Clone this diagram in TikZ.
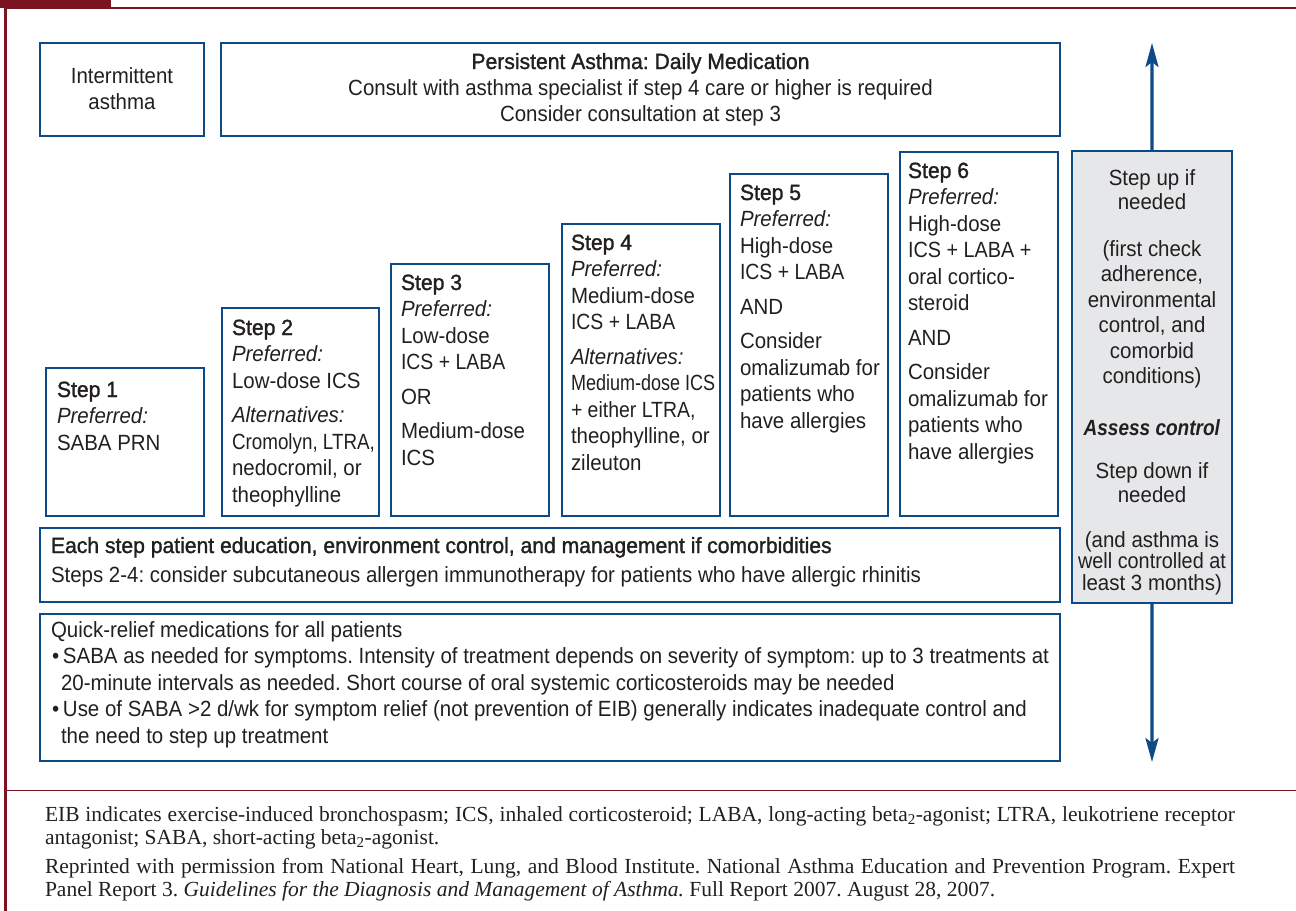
\documentclass[tikz,border=0pt]{standalone}
\usepackage{graphicx}
\usepackage{fontspec}
\setmainfont{Liberation Sans}[FakeStretch=0.93]
\newfontfamily\medfont{Liberation Sans}[FakeStretch=0.96,FakeBold=1.4]
\newfontfamily\footfont{Liberation Serif}
\usetikzlibrary{arrows.meta}
\definecolor{navy}{HTML}{0E4A87}
\definecolor{maroon}{HTML}{7B1420}
\definecolor{panelgray}{HTML}{E6E7E8}
\definecolor{ink}{HTML}{231F20}
\frenchspacing
\newcommand\fl{\rule{0pt}{17bp}}
\newcommand\narrow[2]{\scalebox{#1}[1]{#2}}
\newcommand\bodyfs{\fontsize{22bp}{26.5bp}\selectfont\frenchspacing}
\newcommand\footfs{\fontsize{21.5bp}{23bp}\selectfont\footfont\frenchspacing}
\begin{document}
\begin{tikzpicture}[x=1bp,y=-1bp,
  frame/.style={maroon, line width=2.5bp},
  box/.style={draw=navy, line width=2bp, inner sep=0pt, outer sep=0pt, anchor=north west},
  graybox/.style={box, fill=panelgray},
  txt/.style={inner sep=0pt, outer sep=0pt, anchor=north west, align=left, text=ink, font=\bodyfs},
  ctxt/.style={txt, anchor=north, align=center},
  foot/.style={inner sep=0pt, outer sep=0pt, anchor=base west, text=ink, font=\footfs},
  updown/.style={draw=navy, line width=3.2bp, -{Stealth[length=24bp,width=13bp,inset=5bp]}}
]
\useasboundingbox (0,0) rectangle (1296,911);
% frame
\fill[maroon] (0,0) rectangle (111,8);
\draw[frame] (5.5,8) -- (1296,8);
\draw[frame] (5.5,8) -- (5.5,911);
\draw[maroon, line width=1.2bp] (5.5,790.5) -- (1296,790.5);

% top boxes
\node[box, minimum width=164bp, minimum height=93bp] (inter) at (40,43) {};
\node[box, minimum width=839bp, minimum height=93bp] (persist) at (221,43) {};
\node[ctxt, font=\fontsize{22bp}{26bp}\selectfont\frenchspacing] (intert) at (122,66) {\fl Intermittent\\asthma};
\node[ctxt, font=\fontsize{22bp}{26bp}\selectfont\frenchspacing] (persistt) at (640.5,52)
  {\fl{\medfont Persistent Asthma: Daily Medication}\\Consult with asthma specialist if step 4 care or higher is required\\Consider consultation at step 3};

% step boxes
\node[box, minimum width=158bp, minimum height=148bp] (s1) at (46,368) {};
\node[box, minimum width=157bp, minimum height=208bp] (s2) at (222,308) {};
\node[box, minimum width=158bp, minimum height=252bp] (s3) at (391,264) {};
\node[box, minimum width=158bp, minimum height=292bp] (s4) at (562,224) {};
\node[box, minimum width=158bp, minimum height=342bp] (s5) at (730,174) {};
\node[box, minimum width=158bp, minimum height=364bp] (s6) at (900,152) {};

\node[txt] (s1t) at (57,380) {\fl{\medfont Step 1}\\\textit{Preferred:}\\SABA PRN};
\node[txt] (s2t) at (232,318) {\fl{\medfont Step 2}\\\textit{Preferred:}\\Low-dose ICS\\[8bp]\textit{Alternatives:}\\\narrow{0.92}{Cromolyn, LTRA,}\\nedocromil, or\\theophylline};
\node[txt] (s3t) at (401,273) {\fl{\medfont Step 3}\\\textit{Preferred:}\\Low-dose\\\narrow{0.95}{ICS + LABA}\\[8bp]OR\\[8bp]Medium-dose\\ICS};
\node[txt] (s4t) at (571,233) {\fl{\medfont Step 4}\\\textit{Preferred:}\\Medium-dose\\\narrow{0.95}{ICS + LABA}\\[8bp]\textit{Alternatives:}\\\narrow{0.88}{Medium-dose ICS}\\\narrow{0.95}{+ either LTRA,}\\theophylline, or\\zileuton};
\node[txt] (s5t) at (740,183) {\fl{\medfont Step 5}\\\textit{Preferred:}\\High-dose\\\narrow{0.95}{ICS + LABA}\\[8bp]AND\\[8bp]Consider\\omalizumab for\\patients who\\have allergies};
\node[txt] (s6t) at (908,161) {\fl{\medfont Step 6}\\\textit{Preferred:}\\High-dose\\\narrow{0.97}{ICS + LABA +}\\oral cortico-\\steroid\\[8bp]AND\\[8bp]Consider\\omalizumab for\\patients who\\have allergies};

% bottom boxes
\node[box, minimum width=1020bp, minimum height=74bp] (each) at (40,528) {};
\node[txt] (eacht) at (51,536) {\fl{\medfont Each step patient education, environment control, and management if comorbidities}\\[2.5bp]Steps 2-4: consider subcutaneous allergen immunotherapy for patients who have allergic rhinitis};
\node[box, minimum width=1020bp, minimum height=147bp] (quick) at (40,614) {};
\node[txt] (quickt) at (51,620) {\fl Quick-relief medications for all patients\\
\makebox[12bp][l]{\hspace{1bp}•}SABA as needed for symptoms. Intensity of treatment depends on severity of symptom: up to 3 treatments at\\
\hspace*{10bp}20-minute intervals as needed. Short course of oral systemic corticosteroids may be needed\\
\makebox[12bp][l]{\hspace{1bp}•}Use of SABA >2 d/wk for symptom relief (not prevention of EIB) generally indicates inadequate control and\\
\hspace*{10bp}the need to step up treatment};

% right panel
\node[graybox, minimum width=160bp, minimum height=452bp] (gray) at (1072,151) {};
\node[ctxt, font=\fontsize{22bp}{24bp}\selectfont] (g1) at (1152,168) {\fl Step up if\\needed};
\node[ctxt, font=\fontsize{22bp}{25.5bp}\selectfont] (g2) at (1152,239) {\fl(first check\\adherence,\\environmental\\control, and\\comorbid\\conditions)};
\node[ctxt] (g3) at (1152,418) {\fl\narrow{0.93}{\textbf{\textit{Assess control}}}};
\node[ctxt, font=\fontsize{22bp}{24bp}\selectfont] (g4) at (1152,461) {\fl Step down if\\needed};
\node[ctxt, font=\fontsize{22bp}{21.5bp}\selectfont] (g5) at (1152,530) {\fl(and asthma is\\\narrow{0.97}{well controlled at}\\least 3 months)};

\coordinate (uptip) at (1152,43);
\coordinate (downtip) at (1152,762);
\draw[updown] (gray.north) -- (uptip);
\draw[updown] (gray.south) -- (downtip);

% footer
\node[foot] (f1) at (45,821) {\makebox[1190bp][s]{EIB indicates exercise-induced bronchospasm; ICS, inhaled corticosteroid; LABA, long-acting beta\textsubscript{2}-agonist; LTRA, leukotriene receptor}};
\node[foot] (f2) at (45,844) {antagonist; SABA, short-acting beta\textsubscript{2}-agonist.};
\node[foot] (f3) at (45,873) {\makebox[1190bp][s]{Reprinted with permission from National Heart, Lung, and Blood Institute. National Asthma Education and Prevention Program. Expert}};
\node[foot] (f4) at (45,896) {Panel Report 3. \textit{Guidelines for the Diagnosis and Management of Asthma.} Full Report 2007. August 28, 2007.};
\end{tikzpicture}
\end{document}
